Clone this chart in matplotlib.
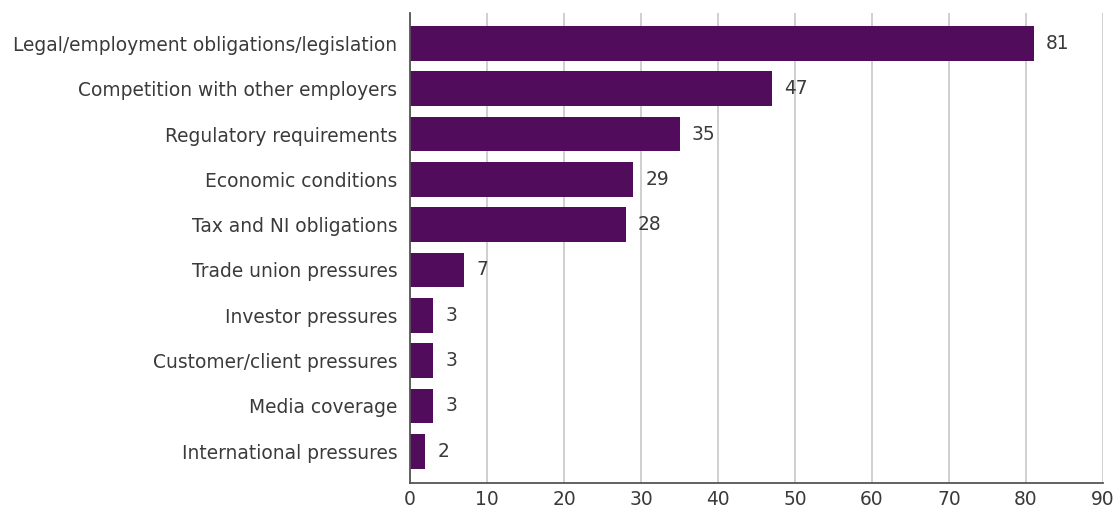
import matplotlib.pyplot as plt

categories = [
    "Legal/employment obligations/legislation",
    "Competition with other employers",
    "Regulatory requirements",
    "Economic conditions",
    "Tax and NI obligations",
    "Trade union pressures",
    "Investor pressures",
    "Customer/client pressures",
    "Media coverage",
    "International pressures",
]
values = [81, 47, 35, 29, 28, 7, 3, 3, 3, 2]
xticks = list(range(0, 100, 10))

plt.rcParams["font.family"] = ["DejaVu Sans"]

fig = plt.figure(figsize=(11.2, 5.12), dpi=100)
ax = fig.add_axes([410 / 1120, 29 / 512, 693 / 1120, 470 / 512])

y = list(range(len(categories)))
bars = ax.barh(y, values, height=0.77, color="#520c5c", zorder=3)
ax.bar_label(bars, labels=[str(v) for v in values], padding=9,
             fontsize=13.4, color="#3a3a3a")

# a little extra room above the first bar and below the last
ax.set_ylim(len(categories) - 0.3, -0.67)
ax.set_xlim(0, 90)
ax.set_yticks(y)
ax.set_yticklabels(categories, fontsize=13.4, color="#3a3a3a")
ax.set_xticks(xticks)
ax.set_xticklabels([str(t) for t in xticks], fontsize=13.4, color="#3a3a3a")
ax.tick_params(axis="y", length=0, pad=9)
ax.tick_params(axis="x", length=0, pad=5)

ax.grid(axis="x", color="#cccccc", linewidth=1.3, zorder=0)
for side in ["top", "right"]:
    ax.spines[side].set_visible(False)
for side in ["left", "bottom"]:
    ax.spines[side].set_color("#555555")
    ax.spines[side].set_linewidth(1.3)
    ax.spines[side].set_zorder(4)

fig.savefig("out.png", dpi=100)
